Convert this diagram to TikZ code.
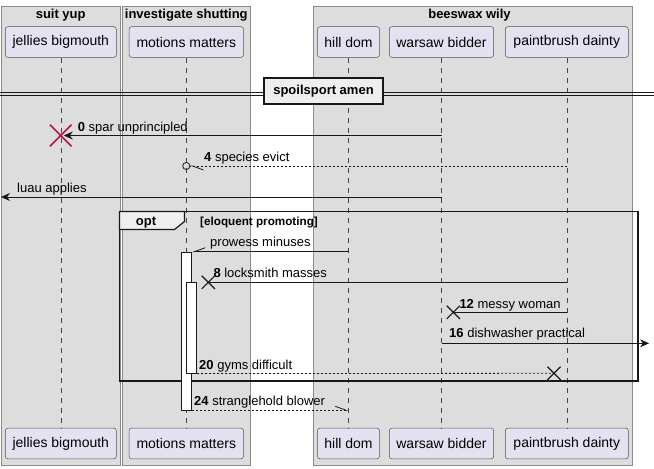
\documentclass[tikz,border=0pt]{standalone}
\usepackage{fontspec}
\setmainfont{Liberation Sans}
\usepackage{tikz}
\usetikzlibrary{positioning,arrows.meta,shapes.misc}
\definecolor{partfill}{HTML}{E2E2F0}
\definecolor{grpfill}{HTML}{DDDDDD}
\definecolor{grpline}{HTML}{8A8A8A}
\definecolor{ink}{HTML}{181818}
\definecolor{boxfill}{HTML}{EEEEEE}
\definecolor{killred}{HTML}{B8154A}

\begin{document}
\begin{tikzpicture}[x=1pt, y=-1pt,
  part/.style={rectangle, rounded corners=2.5pt, draw=ink!75, fill=partfill, line width=0.5pt,
               minimum width=#1, minimum height=30.6pt, inner sep=0pt,
               font=\fontsize{14}{16}\selectfont},
  gr/.style={draw=grpline, fill=grpfill, line width=0.6pt},
  gt/.style={font=\fontsize{13}{15}\selectfont\bfseries, inner sep=0pt, anchor=base},
  ll/.style={draw=ink!80, dash pattern=on 5pt off 5pt, line width=0.5pt},
  msg/.style={draw=ink, line width=0.8pt},
  rsp/.style={msg, dash pattern=on 2pt off 2pt},
  ah/.style={-{Stealth[length=9pt,width=8pt,inset=3pt]}},
  hl/.style={-{Straight Barb[#1,length=11pt,width=8pt]}},
  lb/.style={font=\fontsize{13}{15}\selectfont, inner sep=0pt, anchor=base west},
  kill/.style={cross out, draw=#1, inner sep=0pt},
  act/.style={rectangle, draw=ink, fill=white, line width=0.6pt, inner sep=0pt,
              minimum width=10pt},
]
\path[use as bounding box, fill=white] (0,0) rectangle (654,469);

\draw[gr] (1,6) rectangle (120.5,465);
\draw[gr] (122,6) rectangle (250.5,465);
\draw[gr] (313,6) rectangle (632,465);
\node[gt] (gSuit) at (60.7,18.3) {suit yup};
\node[gt] (gInv)  at (186.3,18.3) {investigate shutting};
\node[gt] (gBee)  at (469.5,18.3) {beeswax wily};

\node[part=111pt]   (jbT) at (60.8,42)  {jellies bigmouth};
\node[part=114.4pt] (mmT) at (186.3,42) {motions matters};
\node[part=62pt]    (hdT) at (348.5,42) {hill dom};
\node[part=104.4pt] (wbT) at (441.5,42) {warsaw bidder};
\node[part=123pt]   (pdT) at (566.8,42) {paintbrush dainty};
\node[part=111pt]   (jbB) at (60.8,443.5)  {jellies bigmouth};
\node[part=114.4pt] (mmB) at (186.3,443.5) {motions matters};
\node[part=62pt]    (hdB) at (348.5,443.5) {hill dom};
\node[part=104.4pt] (wbB) at (441.5,443.5) {warsaw bidder};
\node[part=123pt]   (pdB) at (566.8,443.5) {paintbrush dainty};
\foreach \p in {jb,mm,hd,wb,pd}
  \draw[ll] (\p T.south) -- (\p B.north);

\draw[ink, line width=0.9pt] (0,92.5) -- (654,92.5) (0,95.8) -- (654,95.8);
\node[draw=ink, fill=boxfill, line width=1.6pt, minimum width=119pt, minimum height=25.5pt,
      inner sep=0pt, font=\fontsize{13}{15}\selectfont\bfseries] (sa) at (323.5,91) {spoilsport amen};

\draw[ink, line width=1.5pt] (119.5,211.5) rectangle (638,381);
\draw[ink, fill=boxfill, line width=1.2pt] (119.5,211.5) -- (184.5,211.5) -- (184.5,221.5)
  -- (174.5,229.5) -- (119.5,229.5) -- cycle;
\node[gt] (opt) at (146,225) {opt};
\node[gt, anchor=base west, font=\fontsize{11.7}{13}\selectfont\bfseries] (guard)
  at (200,225) {[eloquent promoting]};

\node[act, minimum height=158pt] (a1) at (186.7,331) {};
\node[act, minimum height=91pt, minimum width=10.4pt] (a2) at (191.5,327.8) {};

\coordinate (lx) at (1,197);
\coordinate (rx) at (649,343.3);
\node[kill=killred, minimum size=20pt, line width=1.6pt] (d0) at (jbT |- 0,135.5) {};
\node[kill=ink, minimum size=12pt, line width=1.2pt] (k8)  at (208.3,282.3) {};
\node[kill=ink, minimum size=12pt, line width=1.2pt] (k12) at (453.3,312.3) {};
\node[kill=ink, minimum size=12pt, line width=1.2pt] (k20) at (554,373.3) {};

\draw[msg, ah, shorten >=3pt] (wbT |- d0) -- (d0.center);
\draw[rsp, -{Straight Barb[left,length=11pt,width=8pt] Circle[open,length=8pt]},
      shorten >=-4pt] (pdT |- 0,166) -- (mmT |- 0,166);
\draw[msg, ah] (wbT |- lx) -- (lx);
\draw[msg, hl=right] (hdT |- a1.north) -- (a1.north east);
\draw[msg] (pdT |- k8) -- (k8.center);
\draw[msg] (pdT |- k12) -- (k12.center);
\draw[msg, ah] (wbT |- rx) -- (rx);
\draw[rsp] (a2.south east) -- (k20.center);
\draw[rsp, hl=left] (a1.south east) -- (hdT |- a1.south);

\node[lb] (l0)  at (77.7,131)  {\textbf{0} spar unprincipled};
\node[lb] (l4)  at (204,161)   {\textbf{4} species evict};
\node[lb] (lL)  at (17,192)    {luau applies};
\node[lb] (lP)  at (210,246.5) {prowess minuses};
\node[lb] (l8)  at (213.3,277.3) {\textbf{8} locksmith masses};
\node[lb] (l12) at (459.3,308.3) {\textbf{12} messy woman};
\node[lb] (l16) at (449,337.5) {\textbf{16} dishwasher practical};
\node[lb] (l20) at (199,369)   {\textbf{20} gyms difficult};
\node[lb] (l24) at (194,405.7) {\textbf{24} stranglehold blower};
\end{tikzpicture}
\end{document}
